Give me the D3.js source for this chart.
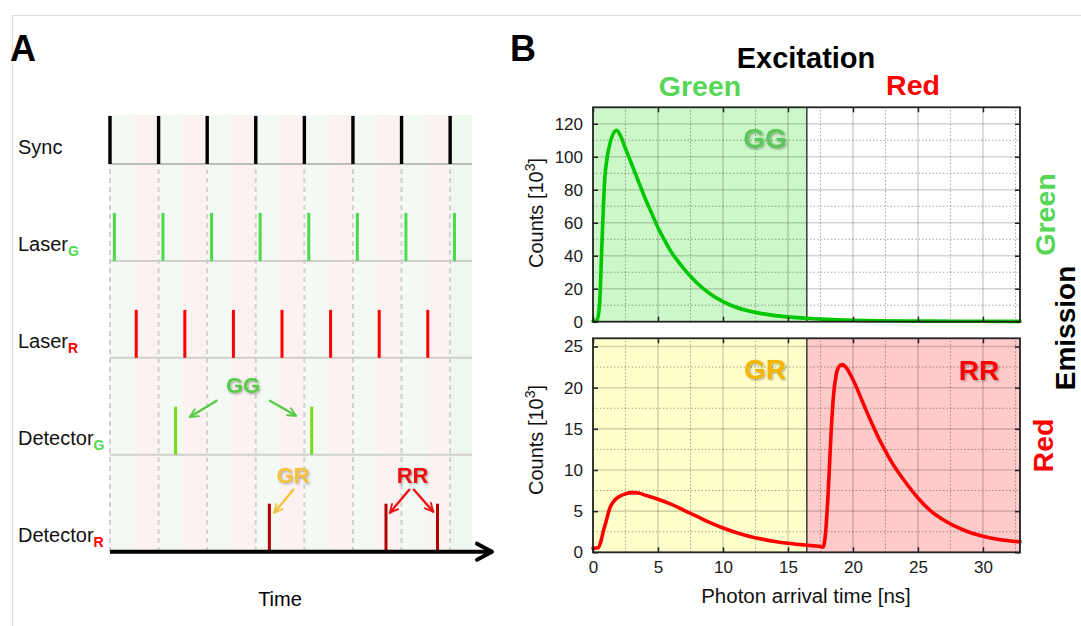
<!DOCTYPE html>
<html>
<head>
<meta charset="utf-8">
<script src="https://cdn.jsdelivr.net/npm/d3@7"></script>
<style>
  html, body { margin: 0; padding: 0; background: #fff; }
  svg { display: block; font-family: "Liberation Sans", Arial, Helvetica, sans-serif; }
</style>
</head>
<body>
<svg id="fig" width="1081" height="626"></svg>
<script>
// ---------- Panel A: pulsed interleaved excitation timing (time in laser periods) ----------
const rowNames = ["Sync", "LaserG", "LaserR", "DetectorG", "DetectorR"];
const periodStarts = [0, 1, 2, 3, 4, 5, 6, 7];
const syncPulses = [0, 1, 2, 3, 4, 5, 6, 7];
const greenLaserPulses = [0.09, 1.09, 2.09, 3.09, 4.09, 5.09, 6.09, 7.09];
const redLaserPulses = [0.54, 1.54, 2.54, 3.54, 4.54, 5.54, 6.54];
const detectorGPhotons = [1.35, 4.15];
const detectorRPhotons = [3.28, 5.68, 6.74];
const timeWindow = [0, 7.45];

// ---------- Panel B: photon arrival time histograms ----------
const arrivalTicks = [0, 5, 10, 15, 20, 25, 30];
const countTicksGreen = [0, 20, 40, 60, 80, 100, 120];
const countTicksRed = [0, 5, 10, 15, 20, 25];
const excitationSplit = 16.45;   // ns, end of the green excitation window
const arrivalRange = [0, 32.85];

const greenTime = [0, 0.3, 0.5, 0.7, 0.9, 1.1, 1.3, 1.5, 1.8, 2.1, 2.4, 2.8, 3.2, 3.6, 4.0, 4.5,
  5.0, 5.5, 6.0, 6.5, 7.0, 7.5, 8, 9, 10, 11, 12, 13, 14, 15, 16, 17, 18, 20, 22, 24, 26, 28, 30, 32.85];
const greenGreenCounts = [0.3, 0.5, 10, 50, 86, 100, 108, 113, 116, 113, 107, 99, 91, 83, 75, 66,
  57, 49.5, 42.5, 37, 32, 27.5, 23.5, 17, 12.2, 8.8, 6.5, 4.9, 3.7, 2.9, 2.3, 1.8, 1.4, 0.9, 0.6,
  0.45, 0.35, 0.3, 0.25, 0.2];

const redTime = [0, 0.4, 0.6, 0.8, 1.0, 1.3, 1.6, 2.0, 2.5, 3.0, 3.5, 4, 5, 6, 7, 8, 9, 10, 11, 12,
  13, 14, 15, 16, 17, 17.5, 17.7, 17.9, 18.1, 18.3, 18.5, 18.7, 18.9, 19.15, 19.5, 19.8, 20.2, 20.6,
  21.0, 21.5, 22, 22.5, 23, 24, 25, 26, 27, 28, 29, 30, 31, 32, 32.85];
const redChannelCounts = [0.5, 0.55, 1.3, 2.6, 3.7, 5.4, 6.2, 6.75, 7.1, 7.25, 7.2, 6.95, 6.45, 5.85,
  5.1, 4.35, 3.6, 2.95, 2.4, 1.95, 1.6, 1.32, 1.1, 0.93, 0.78, 0.7, 0.62, 2.5, 7.5, 14, 19, 21.5,
  22.5, 22.8, 22.4, 21.6, 20.3, 18.8, 17.3, 15.5, 13.8, 12.3, 10.9, 8.6, 6.6, 5.0, 3.9, 3.05, 2.4,
  1.95, 1.62, 1.4, 1.28];

const COL = {
  green: "#55d655",
  red: "#ff0000",
  laserG: "#4fd84a",
  detG: "#77dd1a",
  detR: "#b20000",
  gr: "#f5b400",
  grA: "#f4c23c"
};

const svg = d3.select("#fig");
svg.append("rect").attr("width", 1081).attr("height", 626).attr("fill", "#fff");

// drop shadow for the bold annotation labels
const defs = svg.append("defs");
const sh = defs.append("filter").attr("id", "shadow").attr("x", "-20%").attr("y", "-20%")
  .attr("width", "140%").attr("height", "140%");
sh.append("feDropShadow").attr("dx", 1.2).attr("dy", 1.2).attr("stdDeviation", 0.8)
  .attr("flood-color", "#000").attr("flood-opacity", 0.35);

function arrowMarker(id, color) {
  defs.append("marker").attr("id", id).attr("viewBox", "0 0 10 10")
    .attr("refX", 9).attr("refY", 5).attr("markerWidth", 4.2).attr("markerHeight", 4.2)
    .attr("orient", "auto").attr("markerUnits", "strokeWidth")
    .append("path").attr("d", "M1,1 L9,5 L1,9").attr("fill", "none")
    .attr("stroke", color).attr("stroke-width", 1.8).attr("stroke-linecap", "round")
    .attr("stroke-linejoin", "round");
}
arrowMarker("arrG", "#55cc44");
arrowMarker("arrY", COL.grA);
arrowMarker("arrR", "#ee1111");

// figure frame
svg.append("line").attr("x1", 12).attr("x2", 1081).attr("y1", 15.5).attr("y2", 15.5)
  .attr("stroke", "#dcdcdc").attr("stroke-width", 1.2);
svg.append("line").attr("x1", 12.5).attr("x2", 12.5).attr("y1", 15).attr("y2", 626)
  .attr("stroke", "#dcdcdc").attr("stroke-width", 1.2);

// panel letters
svg.append("text").attr("x", 10).attr("y", 61).attr("font-size", 36).attr("font-weight", "bold")
  .text("A");
svg.append("text").attr("x", 510).attr("y", 61).attr("font-size", 36).attr("font-weight", "bold")
  .text("B");

// ================= Panel A =================
const xA = d3.scaleLinear().domain(timeWindow).range([110, 472]);
const rowBase = d3.scalePoint().domain(rowNames).range([164, 551.7]);
const pulseH = 48;
const A = svg.append("g");
const bgTop = rowBase("Sync") - pulseH - 1;
const bgBot = rowBase("DetectorR");

// alternating green / red excitation half-periods
periodStarts.forEach(p => {
  const g0 = xA(p), g1 = xA(Math.min(p + 0.5, timeWindow[1]));
  A.append("rect").attr("x", g0).attr("y", bgTop).attr("width", g1 - g0).attr("height", bgBot - bgTop)
    .attr("fill", p === 7 ? "#eff8ef" : "#f3faf3");
  if (p + 0.5 < timeWindow[1]) {
    const r1 = xA(Math.min(p + 1, timeWindow[1]));
    A.append("rect").attr("x", g1).attr("y", bgTop).attr("width", r1 - g1).attr("height", bgBot - bgTop)
      .attr("fill", "#fdf2f2");
  }
});

// dashed period markers
A.selectAll(".dash").data(syncPulses).join("line")
  .attr("x1", d => xA(d)).attr("x2", d => xA(d))
  .attr("y1", bgTop).attr("y2", bgBot)
  .attr("stroke", "#d2d0d0").attr("stroke-width", 2).attr("stroke-dasharray", "5,4");

// row baselines
rowNames.slice(0, 4).forEach(r => {
  A.append("line").attr("x1", xA(0)).attr("x2", xA(timeWindow[1]))
    .attr("y1", rowBase(r)).attr("y2", rowBase(r))
    .attr("stroke", r === "Sync" ? "#bdbdbd" : "#cfcfcf").attr("stroke-width", 2);
});

function pulses(data, row, color, width) {
  A.selectAll(null).data(data).join("line")
    .attr("x1", d => xA(d)).attr("x2", d => xA(d))
    .attr("y1", rowBase(row)).attr("y2", rowBase(row) - pulseH)
    .attr("stroke", color).attr("stroke-width", width);
}
pulses(syncPulses, "Sync", "#000", 3.4);
pulses(greenLaserPulses, "LaserG", COL.laserG, 3);
pulses(redLaserPulses, "LaserR", "#ff0000", 3);
pulses(detectorGPhotons, "DetectorG", COL.detG, 3);
pulses(detectorRPhotons, "DetectorR", COL.detR, 3);

// time axis arrow
A.append("line").attr("x1", xA(0)).attr("x2", 492).attr("y1", bgBot).attr("y2", bgBot)
  .attr("stroke", "#000").attr("stroke-width", 4);
A.append("path").attr("d", `M477,${bgBot - 8} L492,${bgBot} L477,${bgBot + 8}`)
  .attr("fill", "none").attr("stroke", "#000").attr("stroke-width", 4)
  .attr("stroke-linecap", "round").attr("stroke-linejoin", "round");
A.append("text").attr("x", 280).attr("y", 606).attr("text-anchor", "middle")
  .attr("font-size", 20).text("Time");

// row labels
const rowLabels = [
  { row: "Sync", main: "Sync", sub: "", color: "" },
  { row: "LaserG", main: "Laser", sub: "G", color: COL.laserG },
  { row: "LaserR", main: "Laser", sub: "R", color: "#ff0000" },
  { row: "DetectorG", main: "Detector", sub: "G", color: COL.laserG },
  { row: "DetectorR", main: "Detector", sub: "R", color: "#ff0000" }
];
rowLabels.forEach(l => {
  const t = A.append("text").attr("x", 18).attr("y", rowBase(l.row) - 10).attr("font-size", 20)
    .attr("fill", "#111").text(l.main);
  if (l.sub) {
    t.append("tspan").attr("dy", 5).attr("font-size", 14).attr("font-weight", "bold")
      .attr("fill", l.color).text(l.sub);
  }
});

// photon-type annotations
function annot(label, x, y, color) {
  A.append("text").attr("x", xA(x)).attr("y", y).attr("text-anchor", "middle")
    .attr("font-size", 22).attr("font-weight", "bold").attr("fill", color)
    .attr("filter", "url(#shadow)").text(label);
}
function arrow(x1, y1, x2, y2, color, marker) {
  A.append("line").attr("x1", xA(x1)).attr("y1", y1).attr("x2", xA(x2)).attr("y2", y2)
    .attr("stroke", color).attr("stroke-width", 2.4).attr("stroke-linecap", "round")
    .attr("marker-end", `url(#${marker})`);
}
const yGG = rowBase("DetectorG") - 62;
annot("GG", 2.737, yGG, "#55cc44");
arrow(2.195, yGG + 8, 1.646, yGG + 24, "#55cc44", "arrG");
arrow(3.292, yGG + 8, 3.827, yGG + 23, "#55cc44", "arrG");
const yGR = rowBase("DetectorR") - 69;
annot("GR", 3.765, yGR, COL.grA);
arrow(3.772, yGR + 7, 3.381, yGR + 30, COL.grA, "arrY");
annot("RR", 6.228, yGR, "#ee1111");
arrow(6.158, yGR + 7, 5.761, yGR + 30, "#ee1111", "arrR");
arrow(6.255, yGR + 7, 6.652, yGR + 29, "#ee1111", "arrR");

// ================= Panel B =================
const B = svg.append("g");
const x = d3.scaleLinear().domain(arrivalRange).range([593, 1020]);
const yTop = d3.scaleLinear().domain([0, 130]).range([321.7, 107.3]);
const yBot = d3.scaleLinear().domain([0, 26]).range([552.3, 338.3]);

const minorX = d3.range(2.5, arrivalRange[1], 5);

function panel(y, majorY, minorY, fills) {
  const g = B.append("g");
  const [x0, x1] = x.range();
  const [yb, yt] = y.range();
  // excitation window shading
  fills.forEach(f => {
    g.append("rect").attr("x", x(f.from)).attr("y", yt).attr("width", x(f.to) - x(f.from))
      .attr("height", yb - yt).attr("fill", f.color);
  });
  // grid
  g.selectAll(null).data(minorY).join("line")
    .attr("x1", x0).attr("x2", x1).attr("y1", d => y(d)).attr("y2", d => y(d))
    .attr("stroke", "rgba(0,0,0,0.35)").attr("stroke-width", 1).attr("stroke-dasharray", "1.5,2");
  g.selectAll(null).data(minorX).join("line")
    .attr("y1", yb).attr("y2", yt).attr("x1", d => x(d)).attr("x2", d => x(d))
    .attr("stroke", "rgba(0,0,0,0.35)").attr("stroke-width", 1).attr("stroke-dasharray", "1.5,2");
  g.selectAll(null).data(majorY.slice(1)).join("line")
    .attr("x1", x0).attr("x2", x1).attr("y1", d => y(d)).attr("y2", d => y(d))
    .attr("stroke", "rgba(0,0,0,0.17)").attr("stroke-width", 1.6);
  g.selectAll(null).data(arrivalTicks.slice(1)).join("line")
    .attr("y1", yb).attr("y2", yt).attr("x1", d => x(d)).attr("x2", d => x(d))
    .attr("stroke", "rgba(0,0,0,0.17)").attr("stroke-width", 1.6);
  // excitation split
  g.append("line").attr("x1", x(excitationSplit)).attr("x2", x(excitationSplit))
    .attr("y1", yb).attr("y2", yt).attr("stroke", "#3a3a3a").attr("stroke-width", 1.5);
  return g;
}

function axes(g, y, majorY, showXLabels) {
  const [yb, yt] = y.range();
  const [x0, x1] = x.range();
  const left = g.append("g").attr("transform", `translate(${x0},0)`)
    .call(d3.axisLeft(y).tickValues(majorY).tickSizeInner(-5).tickSizeOuter(0).tickPadding(10));
  const right = g.append("g").attr("transform", `translate(${x1},0)`)
    .call(d3.axisRight(y).tickValues(majorY).tickSizeInner(-5).tickSizeOuter(0).tickFormat(""));
  const top = g.append("g").attr("transform", `translate(0,${yt})`)
    .call(d3.axisTop(x).tickValues(arrivalTicks).tickSizeInner(-5).tickSizeOuter(0).tickFormat(""));
  const bottom = g.append("g").attr("transform", `translate(0,${yb})`)
    .call(d3.axisBottom(x).tickValues(arrivalTicks).tickSizeInner(-5).tickSizeOuter(0).tickPadding(9)
      .tickFormat(showXLabels ? d3.format("d") : ""));
  [left, right, top, bottom].forEach(a => {
    a.select(".domain").remove();
    a.selectAll(".tick line").attr("stroke", "#222").attr("stroke-width", 1.5);
    a.selectAll(".tick text").attr("font-size", 17).attr("fill", "#1a1a1a")
      .attr("font-family", "Liberation Sans, Arial, sans-serif");
  });
  g.append("rect").attr("x", x0).attr("y", yt).attr("width", x1 - x0).attr("height", yb - yt)
    .attr("fill", "none").attr("stroke", "#222").attr("stroke-width", 1.8);
}

function countsLabel(g, cy) {
  const t = g.append("text").attr("transform", `translate(543,${cy}) rotate(-90)`)
    .attr("text-anchor", "middle").attr("font-size", 20).attr("fill", "#111");
  t.append("tspan").text("Counts [10");
  t.append("tspan").attr("dy", -8).attr("font-size", 14).text("3");
  t.append("tspan").attr("dy", 8).text("]");
}

// top: green-detector histogram
const gTop = panel(yTop, countTicksGreen, [10, 30, 50, 70, 90, 110],
  [{ from: 0, to: excitationSplit, color: "#ccf7c8" }]);
const lineTop = d3.line().x((d, i) => x(greenTime[i])).y(d => yTop(d)).curve(d3.curveMonotoneX);
gTop.append("path").datum(greenGreenCounts).attr("d", lineTop).attr("fill", "none")
  .attr("stroke", "#00c800").attr("stroke-width", 3.6).attr("stroke-linejoin", "round")
  .attr("stroke-linecap", "round");
axes(gTop, yTop, countTicksGreen, false);
countsLabel(gTop, 213);
gTop.append("text").attr("x", 765).attr("y", 148).attr("text-anchor", "middle")
  .attr("font-size", 28).attr("font-weight", "bold").attr("fill", "#5cc85c")
  .attr("filter", "url(#shadow)").text("GG");

// bottom: red-detector histogram
const gBot = panel(yBot, countTicksRed, [2.5, 7.5, 12.5, 17.5, 22.5],
  [{ from: 0, to: excitationSplit, color: "#ffffcc" },
   { from: excitationSplit, to: arrivalRange[1], color: "#ffcaca" }]);
const lineBot = d3.line().x((d, i) => x(redTime[i])).y(d => yBot(d)).curve(d3.curveMonotoneX);
gBot.append("path").datum(redChannelCounts).attr("d", lineBot).attr("fill", "none")
  .attr("stroke", "#ff0000").attr("stroke-width", 3.6).attr("stroke-linejoin", "round")
  .attr("stroke-linecap", "round");
axes(gBot, yBot, countTicksRed, true);
countsLabel(gBot, 440);
gBot.append("text").attr("x", 765).attr("y", 378.5).attr("text-anchor", "middle")
  .attr("font-size", 28).attr("font-weight", "bold").attr("fill", COL.gr)
  .attr("filter", "url(#shadow)").text("GR");
gBot.append("text").attr("x", 979).attr("y", 379.5).attr("text-anchor", "middle")
  .attr("font-size", 28).attr("font-weight", "bold").attr("fill", "#ff0000")
  .attr("filter", "url(#shadow)").text("RR");

B.append("text").attr("x", 806).attr("y", 603).attr("text-anchor", "middle")
  .attr("font-size", 20.5).attr("fill", "#111").text("Photon arrival time [ns]");

// excitation / emission headers
B.append("text").attr("x", 806).attr("y", 68).attr("text-anchor", "middle")
  .attr("font-size", 29).attr("font-weight", "bold").text("Excitation");
B.append("text").attr("x", 700).attr("y", 96).attr("text-anchor", "middle")
  .attr("font-size", 28.5).attr("font-weight", "bold").attr("fill", COL.green).text("Green");
B.append("text").attr("x", 913).attr("y", 95).attr("text-anchor", "middle")
  .attr("font-size", 28.5).attr("font-weight", "bold").attr("fill", COL.red).text("Red");
B.append("text").attr("transform", "translate(1075,328) rotate(-90)").attr("text-anchor", "middle")
  .attr("font-size", 28).attr("font-weight", "bold").text("Emission");
B.append("text").attr("transform", "translate(1055,214.5) rotate(-90)").attr("text-anchor", "middle")
  .attr("font-size", 28.5).attr("font-weight", "bold").attr("fill", COL.green).text("Green");
B.append("text").attr("transform", "translate(1053,445.5) rotate(-90)").attr("text-anchor", "middle")
  .attr("font-size", 28.5).attr("font-weight", "bold").attr("fill", COL.red).text("Red");
</script>
</body>
</html>
